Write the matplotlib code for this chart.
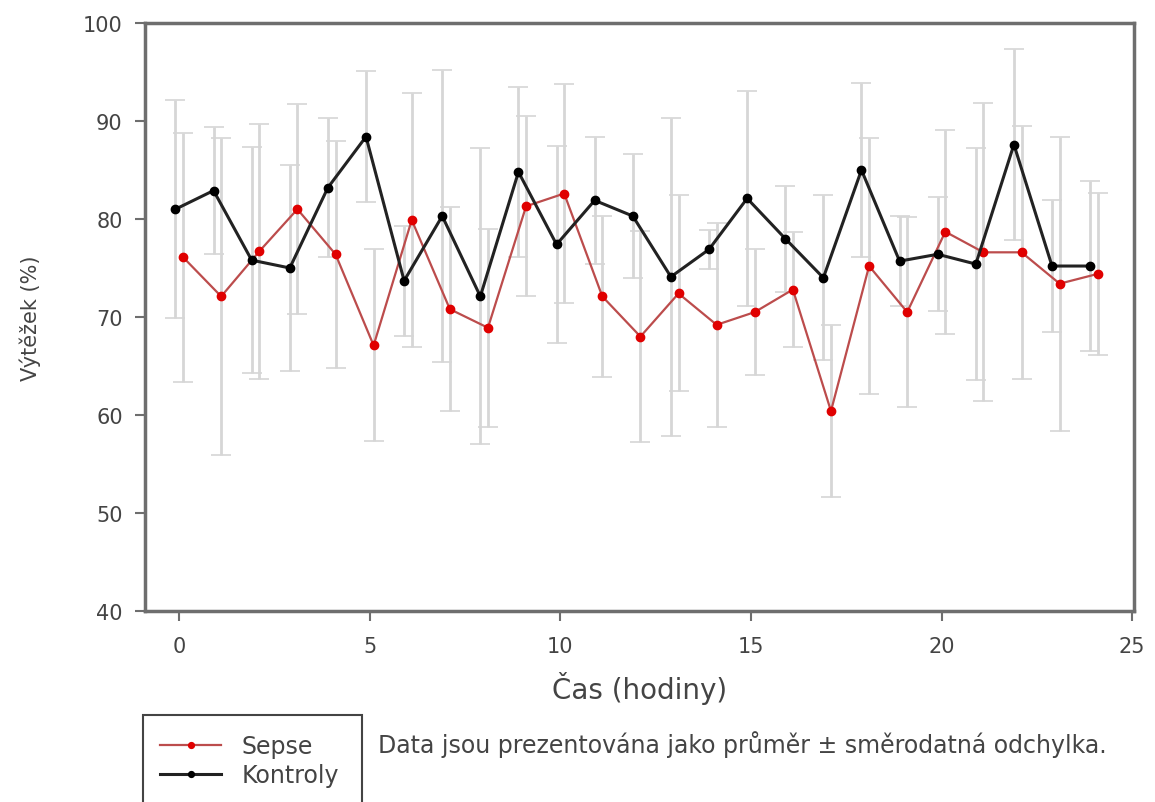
import numpy as np
import matplotlib.pyplot as plt
from matplotlib.patches import Rectangle

# data
hodiny = np.arange(25)
sepse = [76.1, 72.1, 76.7, 81.0, 76.4, 67.1, 79.9, 70.8, 68.9, 81.3, 82.6, 72.1, 68.0,
         72.4, 69.2, 70.5, 72.8, 60.4, 75.2, 70.5, 78.7, 76.6, 76.6, 73.4, 74.4]
sepse_sd = [12.7, 16.2, 13.0, 10.7, 11.6, 9.8, 13.0, 10.4, 10.1, 9.2, 11.2, 8.2, 10.8,
            10.0, 10.4, 6.4, 5.9, 8.8, 13.1, 9.7, 10.4, 15.2, 12.9, 15.0, 8.3]
kontroly = [81.0, 82.9, 75.8, 75.0, 83.2, 88.4, 73.7, 80.3, 72.1, 84.8, 77.4, 81.9, 80.3,
            74.1, 76.9, 82.1, 78.0, 74.0, 85.0, 75.7, 76.4, 75.4, 87.6, 75.2, 75.2]
kontroly_sd = [11.1, 6.5, 11.5, 10.5, 7.1, 6.7, 5.6, 14.9, 15.1, 8.7, 10.1, 6.5, 6.3,
               16.2, 2.0, 11.0, 5.4, 8.4, 8.9, 4.6, 5.8, 11.8, 9.7, 6.7, 8.7]

plt.rcParams['font.family'] = ['DejaVu Sans']

fig = plt.figure(figsize=(11.55, 8.03), dpi=100)
ax = fig.add_axes([0.1255, 0.2379, 0.8563, 0.7322])

# error bars (light grey, behind)
ax.errorbar(hodiny - 0.1, kontroly, yerr=kontroly_sd, fmt='none', ecolor='#d6d6d6',
            elinewidth=2.0, capsize=7, capthick=1.2, zorder=1)
ax.errorbar(hodiny + 0.1, sepse, yerr=sepse_sd, fmt='none', ecolor='#d6d6d6',
            elinewidth=2.0, capsize=7, capthick=1.2, zorder=1)

l1, = ax.plot(hodiny + 0.1, sepse, '-o', color='#bc4c4c', lw=1.6, ms=6,
              mfc='#e00000', mec='#e00000', label='Sepse', zorder=3)
l2, = ax.plot(hodiny - 0.1, kontroly, '-o', color='#222222', lw=2.2, ms=6,
              mfc='black', mec='black', label='Kontroly', zorder=4)

ax.set_xlim(-0.9, 25.05)
ax.set_ylim(40, 100)
ax.set_xticks([0, 5, 10, 15, 20, 25])
ax.set_yticks([40, 50, 60, 70, 80, 90, 100])
for s in ax.spines.values():
    s.set_color('#6e6e6e')
    s.set_linewidth(2.5)
ax.tick_params(colors='#6e6e6e', labelcolor='#444444', labelsize=15, length=7, width=1.5)
ax.tick_params(axis='x', pad=11)
ax.tick_params(axis='y', pad=9)

ax.set_xlabel('Čas (hodiny)', fontsize=20, color='#444444', labelpad=11)
ax.set_ylabel('Výtěžek (%)', fontsize=15, color='#444444', labelpad=30)

# legend box, cut by the bottom edge
fig.patches.append(Rectangle((143 / 1155, -0.02), (362 - 143) / 1155, 0.02 + (803 - 716) / 803,
                             transform=fig.transFigure, fill=False, ec='#444444', lw=1.5))
fig.legend(handles=[l1, l2], loc='upper left', bbox_to_anchor=(148 / 1155, 1 - 723 / 803),
           frameon=False, fontsize=17, handlelength=2.6, markerscale=0.7,
           labelspacing=0.22, handletextpad=0.85, labelcolor='#444444', borderpad=0)

fig.text(378 / 1155, 1 - 745 / 803, 'Data jsou prezentována jako průměr ± směrodatná odchylka.',
         fontsize=17, color='#444444', va='center', ha='left')

fig.savefig('out.png', dpi=100)
